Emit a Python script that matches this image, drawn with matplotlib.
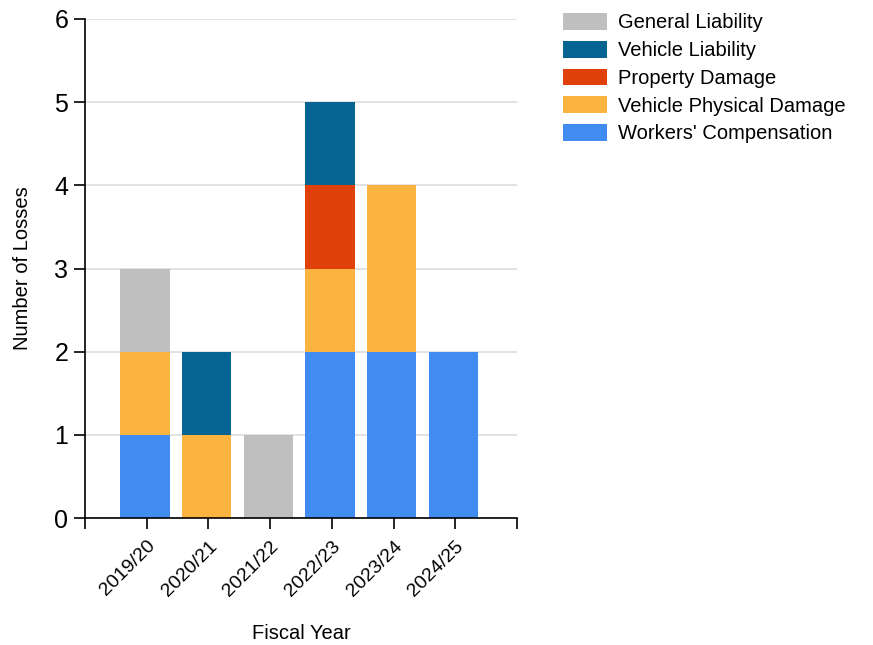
import matplotlib
matplotlib.use('Agg')
from matplotlib import pyplot as plt
import numpy as np

plt.rcParams['font.family'] = ['Liberation Sans', 'DejaVu Sans']

years = ['2019/20', '2020/21', '2021/22', '2022/23', '2023/24', '2024/25']
workers_comp = [1, 0, 0, 2, 2, 2]
vehicle_phys = [1, 1, 0, 1, 2, 0]
property_dmg = [0, 0, 0, 1, 0, 0]
vehicle_liab = [0, 1, 0, 1, 0, 0]
general_liab = [1, 0, 1, 0, 0, 0]

series = [
    ('Workers\' Compensation', workers_comp, '#418CF0'),
    ('Vehicle Physical Damage', vehicle_phys, '#FCB441'),
    ('Property Damage', property_dmg, '#E0400A'),
    ('Vehicle Liability', vehicle_liab, '#056492'),
    ('General Liability', general_liab, '#BFBFBF'),
]

fig = plt.figure(figsize=(8.73, 6.45), dpi=100)
ax = fig.add_axes([85 / 873, 1 - 518 / 645, 432 / 873, 499 / 645])

x = np.arange(len(years))
bottom = np.zeros(len(years))
handles = []
for name, vals, color in series:
    b = ax.bar(x - 0.03, vals, width=0.8, bottom=bottom, color=color, label=name, zorder=2)
    handles.append(b)
    bottom += np.array(vals)

ax.set_xlim(-1, 6)
ax.set_ylim(0, 6)
ax.set_xticks(np.arange(-1, 7))
ax.set_xticklabels([''] + years + [''], rotation=45, ha='right', rotation_mode='anchor', fontsize=14)
ax.set_yticks(range(0, 7))
ax.tick_params(axis='y', labelsize=18, length=8, width=1.2, pad=4)
ax.tick_params(axis='x', length=8, width=1.2, pad=6)
ax.yaxis.grid(True, color='#dddddd', linewidth=1.2, zorder=0)
ax.set_axisbelow(True)
for s in ['top', 'right']:
    ax.spines[s].set_visible(False)
for s in ['left', 'bottom']:
    ax.spines[s].set_linewidth(1.2)

ax.set_xlabel('Fiscal Year', fontsize=14.5, labelpad=18)
ax.set_ylabel('Number of Losses', fontsize=14.5, labelpad=16)

fig.legend(handles[::-1], [s[0] for s in series][::-1], loc='upper left',
           bbox_to_anchor=(545 / 873, 1 + 5 / 645), frameon=False, fontsize=14.5,
           handlelength=2.2, handleheight=0.9, handletextpad=0.5, labelspacing=0.42)

fig.savefig('out.png', dpi=100)
